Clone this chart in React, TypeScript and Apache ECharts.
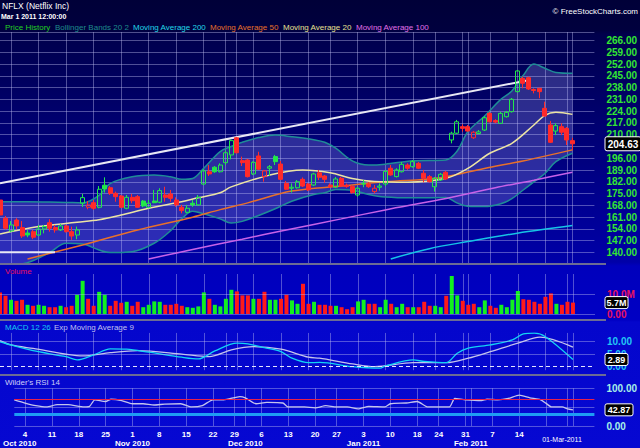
import React, { useEffect, useRef } from 'react';
import * as echarts from 'echarts';

const FONT = '"Liberation Sans", Arial, Helvetica, sans-serif';

// ---------- categories (trading days) ----------
const tradingDays: [string, number[]][] = [
  ['2010-09', [30]],
  ['2010-10', [1, 4, 5, 6, 7, 8, 11, 12, 13, 14, 15, 18, 19, 20, 21, 22, 25, 26, 27, 28, 29]],
  ['2010-11', [1, 2, 3, 4, 5, 8, 9, 10, 11, 12, 15, 16, 17, 18, 19, 22, 23, 24, 26, 29, 30]],
  ['2010-12', [1, 2, 3, 6, 7, 8, 9, 10, 13, 14, 15, 16, 17, 20, 21, 22, 23, 27, 28, 29, 30, 31]],
  ['2011-01', [3, 4, 5, 6, 7, 10, 11, 12, 13, 14, 18, 19, 20, 21, 24, 25, 26, 27, 28, 31]],
  ['2011-02', [1, 2, 3, 4, 7, 8, 9, 10, 11, 14, 15, 16, 17, 18, 22, 23, 24, 25, 28]],
  ['2011-03', [1]],
];
const dates: string[] = tradingDays.flatMap(([m, ds]) => ds.map((d) => `${m}-${String(d).padStart(2, '0')}`));
const padCategories = ['pad1', 'pad2', 'pad3', 'pad4'];
const categories = [...dates, ...padCategories];
const monthNames = ['Jan', 'Feb', 'Mar', 'Apr', 'May', 'Jun', 'Jul', 'Aug', 'Sep', 'Oct', 'Nov', 'Dec'];
const hiddenDayLabels = ['2011-02-22', '2011-02-28'];
const endDateLabel = '01-Mar-2011';

// ---------- price data ----------
const opens = [171.2, 160.4, 152.8, 159.3, 154.8, 151.6, 152.4, 150.4, 154.0, 157.7,
  154.8, 153.4, 155.8, 152.4, 150.4, 169.3, 166.9, 169.6, 166.9, 180.0,
  178.5, 175.2, 173.6, 166.3, 172.8, 173.2, 170.6, 166.9, 170.6, 169.9,
  174.2, 174.8, 171.2, 166.9, 163.9, 169.3, 168.3, 180.7, 188.0, 190.7,
  188.0, 193.4, 198.0, 208.2, 194.6, 195.0, 186.7, 197.4, 185.1, 190.1,
  197.0, 192.6, 181.1, 178.2, 178.5, 183.5, 180.7, 180.1, 187.4, 185.5,
  180.1, 178.8, 184.1, 180.0, 179.3, 174.2, 180.7, 180.7, 176.2, 178.8,
  180.7, 190.1, 185.1, 188.0, 192.0, 191.0, 193.0, 187.1, 185.1, 179.1,
  183.1, 187.7, 206.9, 210.9, 214.8, 214.8, 208.2, 210.7, 212.8, 222.7,
  218.4, 216.8, 220.7, 223.7, 235.6, 243.5, 243.9, 236.9, 237.6, 225.7,
  215.8, 212.2, 214.8, 213.8, 206.5];
const highs = [173.6, 161.7, 158.7, 160.4, 158.7, 153.4, 153.4, 156.4, 156.4, 159.8,
  156.4, 157.0, 156.4, 155.4, 155.4, 174.8, 170.6, 171.2, 179.5, 184.7,
  179.5, 176.2, 174.2, 174.2, 174.8, 174.2, 171.2, 171.2, 177.2, 178.2,
  179.1, 177.2, 172.8, 168.3, 168.3, 171.2, 174.2, 189.5, 192.0, 191.4,
  193.0, 200.5, 207.3, 208.7, 197.0, 195.6, 194.2, 199.9, 189.1, 192.0,
  198.0, 194.4, 182.5, 181.1, 183.1, 184.6, 181.3, 187.4, 189.1, 186.1,
  181.1, 184.9, 184.9, 181.0, 180.0, 179.1, 183.1, 181.9, 180.1, 181.1,
  189.1, 192.0, 190.1, 193.8, 193.0, 195.0, 193.8, 189.1, 186.1, 184.9,
  187.3, 188.5, 211.8, 218.8, 216.2, 215.8, 212.2, 212.8, 221.1, 223.5,
  219.2, 223.5, 224.1, 231.8, 248.5, 244.5, 244.5, 237.6, 237.8, 229.6,
  218.2, 216.8, 216.8, 214.6, 208.1];
const lows = [161.7, 153.7, 152.2, 153.8, 148.6, 149.1, 147.9, 149.8, 151.4, 152.4,
  151.8, 152.8, 151.9, 147.5, 147.9, 167.1, 165.7, 165.3, 166.3, 175.6,
  174.2, 170.2, 166.5, 165.7, 169.3, 166.5, 166.9, 166.3, 169.3, 169.3,
  170.2, 170.2, 167.2, 163.3, 163.3, 167.2, 167.7, 180.1, 185.5, 187.4,
  187.6, 192.0, 195.4, 198.9, 191.4, 184.6, 186.1, 189.1, 182.1, 185.5,
  192.0, 183.1, 177.2, 175.6, 178.0, 178.9, 176.6, 179.5, 183.1, 181.5,
  178.4, 178.4, 178.9, 178.5, 175.0, 173.2, 178.8, 178.4, 175.2, 176.8,
  179.5, 185.7, 184.6, 187.6, 189.1, 190.5, 189.6, 181.7, 181.6, 176.2,
  182.5, 183.1, 204.9, 210.4, 211.8, 211.8, 207.5, 210.3, 212.2, 217.3,
  216.9, 216.4, 220.2, 223.2, 235.2, 237.6, 236.6, 234.6, 231.7, 220.7,
  205.1, 209.8, 209.8, 203.9, 200.9];
const closes = [162.3, 154.4, 156.4, 155.8, 149.8, 150.4, 149.1, 154.0, 155.4, 154.4,
  153.4, 155.8, 152.4, 149.8, 153.4, 172.6, 168.3, 166.3, 177.6, 177.8,
  175.2, 173.2, 166.9, 172.8, 170.8, 166.9, 167.7, 169.3, 169.6, 176.8,
  172.8, 172.2, 168.3, 164.9, 166.3, 168.3, 172.8, 188.5, 186.7, 188.0,
  192.0, 199.3, 206.5, 199.3, 193.4, 185.1, 193.6, 189.5, 188.5, 191.0,
  194.0, 183.5, 177.6, 178.8, 182.1, 179.5, 177.2, 186.7, 184.7, 183.5,
  179.1, 183.7, 179.5, 179.2, 175.6, 178.2, 181.1, 179.1, 178.2, 179.5,
  188.2, 186.1, 189.1, 192.4, 190.1, 194.0, 190.1, 184.1, 182.1, 184.1,
  186.5, 183.7, 210.9, 217.7, 213.8, 212.2, 211.5, 211.7, 220.1, 217.7,
  217.5, 222.7, 223.3, 231.1, 247.9, 240.6, 237.2, 236.3, 235.6, 221.1,
  205.5, 215.4, 211.5, 206.9, 204.63];
// volume in millions
const volumes = [10.8, 9.1, 7.1, 6.6, 7.1, 4.6, 4.1, 4.6, 4.1, 3.4,
  3.4, 4.1, 3.4, 4.1, 9.6, 16.6, 7.6, 4.1, 11.1, 9.6,
  4.1, 6.6, 5.6, 6.1, 4.1, 6.1, 3.4, 4.6, 6.3, 6.1,
  4.6, 4.6, 5.1, 4.1, 3.4, 3.1, 3.8, 10.8, 7.6, 4.6,
  3.8, 7.6, 12.1, 11.3, 9.3, 9.3, 7.6, 7.6, 11.1, 7.1,
  7.1, 7.6, 9.6, 6.8, 5.1, 15.1, 5.1, 6.1, 4.6, 4.6,
  4.1, 4.1, 3.4, 2.4, 3.4, 6.3, 7.1, 5.1, 5.1, 3.4,
  7.1, 5.1, 3.4, 5.1, 3.4, 3.4, 3.4, 6.1, 4.1, 4.1,
  3.4, 9.1, 19.0, 9.3, 6.6, 4.6, 5.1, 3.4, 6.8, 4.1,
  3.1, 4.6, 3.4, 7.1, 11.5, 7.4, 7.1, 6.1, 5.1, 8.6,
  10.3, 5.1, 4.6, 6.1, 5.7];

// ---------- overlay lines ([day index, value]) ----------
const ma20Pts = [[0, 151], [7, 155.4], [14, 158], [18, 159.5], [22, 162.3], [27, 166.3], [33, 170.2], [36, 172.5],
  [40, 175.5], [42, 179], [49, 186], [55, 189], [60, 187.4], [64, 184], [68, 182.2], [74, 181.8], [81, 184.1],
  [85, 190], [89, 199], [93, 204.9], [97, 215.8], [99, 221.5], [101, 223.3], [104, 222.1]];
const ma50Pts = [[5, 136.2], [15, 144.5], [25, 153.4], [35, 161], [40, 165.5], [45, 169.5], [53, 176.5], [62, 179.5],
  [70, 182], [80, 184.5], [88, 190], [95, 194.4], [104, 201]];
const ma100Pts = [[27, 136.2], [35, 141.8], [44, 147.9], [52, 153.4], [62, 160], [70, 165.3], [80, 171.5],
  [90, 178.5], [97, 183], [104, 187.7]];
const ma200Pts = [[71, 136.2], [78, 142.3], [85, 146.5], [94, 151.5], [104, 156]];
const bbIdx = [0, 5, 9, 12, 15, 18, 20, 24, 28, 31, 33, 35, 37, 40, 42, 44, 47, 50, 53, 57,
  59, 61, 64, 67, 70, 75, 81, 83, 85, 88, 91, 93, 95, 97, 99, 101, 104];
const bbUpper = [170.2, 170.2, 170, 169.8, 169.5, 174, 181, 185, 186, 185, 183.5, 184, 190, 200, 203, 205.5, 208.3, 209.8, 208.8, 207,
  205.5, 202, 194.5, 192, 192.5, 194.5, 195, 200, 211.8, 221, 231, 236, 245, 252, 249.5, 247, 246.5];
const bbLower = [132, 134, 140, 145.5, 145, 141.5, 140, 140.5, 145.5, 153, 160, 164.5, 163, 160, 157.5, 158.5, 162, 166, 170.5, 174.5,
  175.5, 177.5, 177, 174.5, 173, 172.5, 172.7, 169.5, 167.5, 167.3, 169, 172, 177, 182, 187, 194, 199];
const trendTop = [[0, 181.1], [96, 242.4]];
const trendBottom = [[0, 140.1], [10, 140.1]];

const macdPts = [[0, 10], [2, 8.7], [6, 6.4], [12, 4.0], [14, 2.7], [17, 4.7], [20, 7.1], [23, 7.0], [27, 5.8], [33, 3.8],
  [36, 3.1], [39, 6.3], [43, 9.4], [45, 9.1], [48, 7.6], [51, 6.0], [53, 3.4], [56, 1.6], [58, 1.7], [64, 0.0],
  [69, -0.6], [70, 0.3], [75, 2.7], [77, 2.1], [81, 1.6], [83, 5.4], [85, 7.4], [89, 8.7], [93, 10.7], [95, 13.1],
  [97, 13.4], [99, 12.0], [104, 2.89]];
const signalPts = [[0, 10.4], [2, 8.7], [6, 7.3], [15, 4.3], [20, 5.6], [25, 6.4], [33, 5.0], [38, 4.0], [42, 6.7],
  [46, 8.0], [51, 7.0], [56, 3.8], [58, 3.4], [64, 1.1], [68, 0.0], [75, 1.6], [81, 1.6], [85, 3.4], [89, 6.0],
  [94, 9.4], [98, 11.8], [104, 7.8]];
const rsiPts = [[0, 69.5], [2, 61], [4, 54], [6, 50.5], [8, 56.5], [10, 56.5], [13, 50.5], [14, 52], [15, 69.5], [17, 65],
  [18, 71], [20, 67.5], [22, 59], [24, 59], [26, 55.7], [28, 58], [31, 59], [33, 50.5], [35, 54], [37, 69.5], [39, 69.5],
  [42, 78], [43, 74.7], [45, 59], [47, 62.5], [50, 61], [51, 50.5], [54, 50.5], [56, 48], [58, 54], [60, 50.5], [62, 50.5],
  [64, 45.3], [66, 52], [69, 50.5], [70, 59], [73, 61], [75, 65], [77, 50.5], [79, 50.5], [81, 50.5], [82, 73], [84, 69.5],
  [87, 67.5], [88, 71], [90, 69.5], [92, 73], [94, 81.8], [96, 74.7], [98, 69.5], [99, 60], [100, 50.5], [102, 50.5],
  [103, 45.3], [104, 42.87]];

// axis tick values
const priceMin = 133, priceMax = 271, priceStep = 7, priceLabelMin = 140, priceLabelMax = 266;
const volMax = 20, volStep = 10;
const macdMin = -1.4, macdMax = 13.5, macdLabels = [0, 5, 10];
const rsiOverbought = 70, rsiOversold = 30;

// ---------- derived ----------
const dObj = dates.map((s) => new Date(s + 'T12:00:00Z'));
const isWeekStart = dates.map((_, i) => i > 0 && (dObj[i].getUTCDay() <= dObj[i - 1].getUTCDay() || dObj[i].getTime() - dObj[i - 1].getTime() > 6 * 864e5));
const isMonthStart = dates.map((s, i) => i === 0 || s.slice(0, 7) !== dates[i - 1].slice(0, 7));
const vLine = dates.map((_, i) => isWeekStart[i] || (isMonthStart[i] && i > 1));
function xLabel(i: number): string {
  if (i >= dates.length) return '';
  const d = dObj[i];
  const day = isWeekStart[i] && !hiddenDayLabels.includes(dates[i]) ? String(d.getUTCDate()) : '';
  const month = isMonthStart[i] && i < dates.length - 1 ? `${monthNames[d.getUTCMonth()]} ${d.getUTCFullYear()}` : '';
  if (!day && !month) return '';
  return `${day}\n${month}`;
}
const lastClose = closes[closes.length - 1];

const UPC = '#22e84a', DNC = '#ff2a2a', CLEAR = 'rgba(0,0,0,0)';
const dirUp = closes.map((c, i) => c >= (i > 0 ? closes[i - 1] : opens[0]));
const candleData = opens.map((o, i) => {
  const c = closes[i];
  const col = dirUp[i] ? UPC : DNC;
  const hollow = c > o;
  return {
    value: [o, c, lows[i], highs[i]],
    itemStyle: { color: hollow ? CLEAR : col, color0: hollow ? CLEAR : col, borderColor: col, borderColor0: col, borderWidth: 1 },
  };
});
const volData = volumes.map((v, i) => ({ value: v, itemStyle: { color: dirUp[i] ? '#12f020' : '#ff1a1a' } }));
const bbLowerPts = bbIdx.map((x, k) => [x, bbLower[k]]);
const bbWidthPts = bbIdx.map((x, k) => [x, bbUpper[k] - bbLower[k]]);

const GRIDC = 'rgba(190,190,240,0.42)';
const BG = 'linear-gradient(180deg, #000038 0px, #00003e 30px, #00004c 34px, #0000a8 262px, #0000bc 266px, #0000c4 320px, #0406cc 322px, #0608d2 448px)';

const grids = [
  { left: 0, right: 45, top: 32.1, height: 232.2 },
  { left: 0, right: 45, top: 274, height: 40 },
  { left: 0, right: 45, top: 332.95, height: 37.25 },
  { left: 0, right: 45, top: 388.3, height: 38.4 },
];

const lineSeries = (name: string, data: number[][], color: string, axis: number, width = 1.2, extra: any = {}) => ({
  type: 'line', name, data, xAxisIndex: axis, yAxisIndex: axis, symbol: 'none', smooth: 0.35,
  lineStyle: { color, width }, z: 3, ...extra,
});

function buildOption(): any {
  const xAxes = [0, 1, 2, 3].map((k) => ({
    type: 'category', gridIndex: k, data: categories, boundaryGap: false,
    axisLine: { show: false }, axisTick: { show: false },
    splitLine: { show: true, interval: (i: number) => vLine[i] === true, lineStyle: { color: GRIDC, width: 1 } },
    axisLabel: k === 3
      ? { show: true, interval: (i: number) => xLabel(i) !== '', formatter: (_v: string, i: number) => xLabel(i),
          color: '#ffffff', fontSize: 8, fontWeight: 'bold', fontFamily: FONT, lineHeight: 9, margin: 4 }
      : { show: false },
  }));
  const yAxes = [
    { type: 'value', gridIndex: 0, position: 'right', min: priceMin, max: priceMax, interval: priceStep,
      axisLine: { show: false }, axisTick: { show: false },
      splitLine: { show: true, lineStyle: { color: GRIDC, width: 1 } },
      axisLabel: { color: '#33e633', fontSize: 10, fontWeight: 'bold', fontFamily: FONT, margin: 12,
        // the tick hidden under the last-price tag is not drawn
        formatter: (v: number) => (v >= priceLabelMin && v <= priceLabelMax && Math.abs(v - lastClose) > 4 ? v.toFixed(2) : '') } },
    { type: 'value', gridIndex: 1, position: 'right', min: 0, max: volMax, interval: volStep,
      axisLine: { show: false }, axisTick: { show: false }, splitLine: { show: false },
      axisLabel: { color: '#e8125e', fontSize: 10, fontWeight: 'bold', fontFamily: FONT, margin: 12,
        formatter: (v: number) => (v === 0 ? '0.00' : v === volStep ? v.toFixed(1) + 'M' : '') } },
    { type: 'value', gridIndex: 2, position: 'right', min: macdMin, max: macdMax, splitNumber: 3,
      axisLine: { show: false }, axisTick: { show: false }, splitLine: { show: false },
      axisLabel: { color: '#22c8f4', fontSize: 10, fontWeight: 'bold', fontFamily: FONT, margin: 12, customValues: macdLabels,
        formatter: (v: number) => (macdLabels.includes(v) ? v.toFixed(2) : '') } },
    { type: 'value', gridIndex: 3, position: 'right', min: 0, max: 100, interval: 50,
      axisLine: { show: false }, axisTick: { show: false },
      splitLine: { show: true, lineStyle: { color: GRIDC, width: 1 } },
      axisLabel: { color: '#a8f0e8', fontSize: 10, fontWeight: 'bold', fontFamily: FONT, margin: 12,
        formatter: (v: number) => (v === 50 ? '' : v.toFixed(2)) } },
  ];
  const hline = (y: number, color: string, width = 1, type: any = 'solid') => ({ yAxis: y, lineStyle: { color, width, type } });
  const series: any[] = [
    { type: 'line', name: 'bbLower', data: bbLowerPts, xAxisIndex: 0, yAxisIndex: 0, stack: 'bb', symbol: 'none', smooth: 0.35,
      lineStyle: { color: '#1f8c96', width: 1.5 }, z: 1 },
    { type: 'line', name: 'bbUpper', data: bbWidthPts, xAxisIndex: 0, yAxisIndex: 0, stack: 'bb', symbol: 'none', smooth: 0.35,
      lineStyle: { color: '#1f8c96', width: 1.5 }, areaStyle: { color: 'rgba(175,175,255,0.36)' }, z: 1 },
    lineSeries('ma200', ma200Pts, '#16c4e6', 0, 1.5),
    lineSeries('ma100', ma100Pts, '#c862e8', 0, 1.5),
    lineSeries('ma50', ma50Pts, '#e8702a', 0, 1.5),
    lineSeries('ma20', ma20Pts, '#ece4a4', 0, 1.5),
    { type: 'line', name: 'trendTop', xAxisIndex: 0, yAxisIndex: 0, symbol: 'none', z: 4, lineStyle: { color: '#e8e8f4', width: 2 },
      data: [trendTop[0], { value: trendTop[1], symbol: 'rect', symbolSize: 5, itemStyle: { color: 'rgba(0,0,0,0)', borderColor: '#fff', borderWidth: 1 } }] },
    { type: 'line', name: 'trendBottom', xAxisIndex: 0, yAxisIndex: 0, symbol: 'none', z: 4, lineStyle: { color: '#e8e8f4', width: 2 },
      data: [trendBottom[0], { value: trendBottom[1], symbol: 'rect', symbolSize: 5, itemStyle: { color: 'rgba(0,0,0,0)', borderColor: '#fff', borderWidth: 1 } }] },
    { type: 'candlestick', name: 'NFLX', data: candleData, xAxisIndex: 0, yAxisIndex: 0, barWidth: 4.5, z: 5 },
    { type: 'bar', name: 'Volume', data: volData, xAxisIndex: 1, yAxisIndex: 1, barWidth: 4, z: 3,
      markLine: { silent: true, symbol: 'none', label: { show: false }, data: [hline(0, GRIDC), hline(volStep, GRIDC)] } },
    lineSeries('signal', signalPts, '#c4c4ec', 2, 1.3, { smooth: 0.3,
      markLine: { silent: true, symbol: 'none', label: { show: false }, data: [hline(0, '#e4e4ff', 1, [4, 3]), hline(5, GRIDC), hline(10, GRIDC)] } }),
    lineSeries('macd', macdPts, '#14d4f4', 2, 1.3, { smooth: 0.3 }),
    lineSeries('rsi', rsiPts, '#c4c4ec', 3, 1.3, { smooth: 0.2,
      markLine: { silent: true, symbol: 'none', label: { show: false }, data: [hline(rsiOverbought, '#e8204a', 1), hline(rsiOversold, '#1e9cf4', 3)] } }),
  ];
  return { animation: false, backgroundColor: 'transparent', grid: grids, xAxis: xAxes, yAxis: yAxes, series };
}

const txt = (text: string, x: number, y: number, fill: string, fontSize = 8, extra: any = {}) => ({
  type: 'text', x, y, z: 100,
  style: { text, fill, fontSize, fontFamily: FONT, verticalAlign: 'middle', align: 'left', ...extra },
});
const hrule = (y: number) => ({ type: 'line', z: 90, shape: { x1: 0, y1: y, x2: 606, y2: y }, style: { stroke: '#6c6c94', lineWidth: 2 } });

function tag(text: string, y: number, fontSize: number, h: number) {
  const w = Math.round(text.replace('.', '').length * fontSize * 0.56 + fontSize * 0.28 + 5);
  return {
    type: 'group', x: 605, y, z: 120,
    children: [
      { type: 'rect', z: 120, shape: { x: 0, y: -h / 2, width: w, height: h, r: 2 }, style: { fill: '#000', stroke: '#fff', lineWidth: 1 } },
      { type: 'text', z: 121, x: w / 2, y: 0.5, style: { text, fill: '#fff', fontSize, fontWeight: 'bold', fontFamily: FONT, align: 'center', verticalAlign: 'middle' } },
    ],
  };
}

export default function App() {
  const ref = useRef<HTMLDivElement>(null);
  useEffect(() => {
    const el = ref.current!;
    const chart = echarts.init(el, undefined, { renderer: 'svg', width: 640, height: 448 });
    chart.setOption(buildOption());
    const last = dates.length - 1;
    const yPrice = chart.convertToPixel({ yAxisIndex: 0 }, closes[last]) as number;
    const yVol = chart.convertToPixel({ yAxisIndex: 1 }, volumes[last]) as number;
    const macdLast = macdPts[macdPts.length - 1][1];
    const rsiLast = rsiPts[rsiPts.length - 1][1];
    const yMacd = chart.convertToPixel({ yAxisIndex: 2 }, macdLast) as number;
    const yRsi = chart.convertToPixel({ yAxisIndex: 3 }, rsiLast) as number;
    const graphics: any[] = [
      hrule(264), hrule(320), hrule(375),
      txt('NFLX (Netflix Inc)', 2, 6, '#ffffff', 8.5),
      txt('Mar 1 2011 12:00:00', 1, 16, '#ffffff', 7, { fontWeight: 'bold' }),
      txt('© FreeStockCharts.com', 638, 11, '#ffffff', 8, { align: 'right' }),
      txt('Price History', 5, 27, '#22d022'),
      txt('Bollinger Bands 20 2', 55, 27, '#1e8c8c'),
      txt('Moving Average 200', 133, 27, '#22d8e8'),
      txt('Moving Average 50', 210, 27, '#e8702a'),
      txt('Moving Average 20', 283, 27, '#e8e090'),
      txt('Moving Average 100', 356, 27, '#e070e8'),
      txt('Volume', 5, 271, '#e8125e'),
      txt('MACD 12 26', 5, 327, '#18c8f0'),
      txt('Exp Moving Average 9', 54, 327, '#c0c0f0'),
      txt("Wilder's RSI 14", 5, 382, '#d0d0f8'),
      txt(endDateLabel, 562, 439, '#ffffff', 7, { align: 'center' }),
      tag(closes[last].toFixed(2), yPrice, 10, 14),
      tag(volumes[last].toFixed(1) + 'M', yVol, 9, 12),
      tag(macdLast.toFixed(2), yMacd, 9, 12),
      tag(rsiLast.toFixed(2), yRsi, 9, 12),
    ];
    chart.setOption({ graphic: graphics });
    return () => chart.dispose();
  }, []);
  return <div ref={ref} style={{ position: 'fixed', left: 0, top: 0, width: 640, height: 448, background: BG }} />;
}
